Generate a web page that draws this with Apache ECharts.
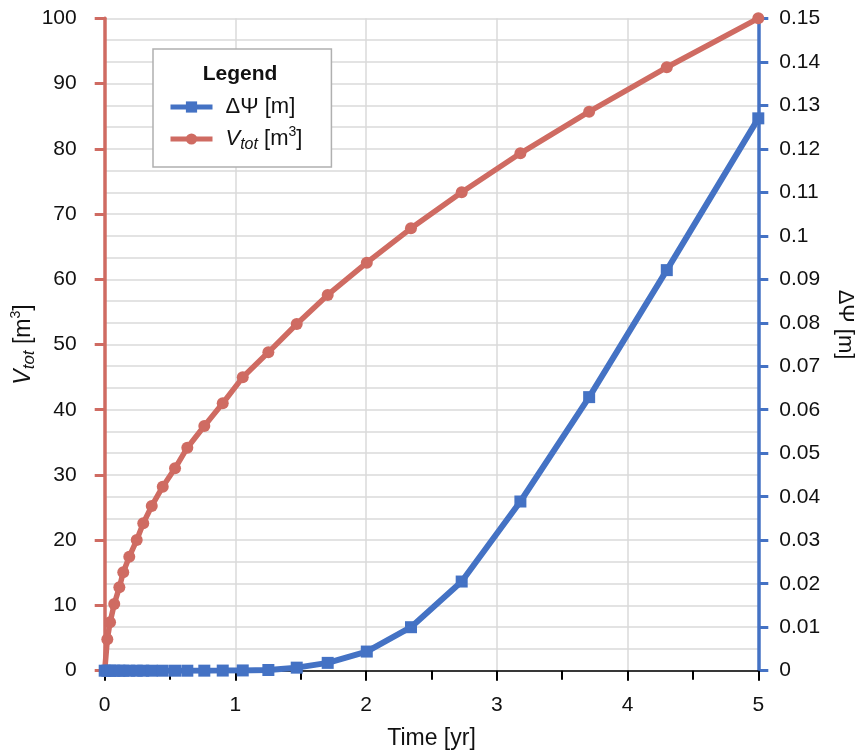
<!DOCTYPE html>
<html>
<head>
<meta charset="utf-8">
<script src="https://cdn.jsdelivr.net/npm/echarts@6/dist/echarts.min.js"></script>
<style>html,body{margin:0;padding:0;background:#fff}#c{width:861px;height:753px}</style>
</head>
<body>
<div id="c"></div>
<script>
// Time [yr]
const time = [0, 0.020, 0.041, 0.073, 0.112, 0.142, 0.188, 0.245, 0.295, 0.360, 0.444, 0.538, 0.632, 0.762, 0.903, 1.056, 1.252, 1.469, 1.706, 2.005, 2.343, 2.731, 3.180, 3.706, 4.300, 5.000];
// V_tot [m3]
const vtot = [0, 4.81, 7.42, 10.22, 12.78, 15.08, 17.47, 20.03, 22.59, 25.25, 28.2, 31.02, 34.18, 37.5, 40.99, 44.97, 48.8, 53.14, 57.59, 62.54, 67.81, 73.33, 79.31, 85.68, 92.49, 100];
// ΔΨ [m]
const dpsi = [0, 0, 0, 0, 0, 0, 0, 0, 0, 0, 0, 0, 0, 0.00001, 0.00003, 0.00006, 0.00016, 0.0007, 0.0018, 0.0044, 0.0100, 0.0205, 0.0389, 0.0629, 0.0921, 0.1270];

const RED = '#cf6b62';
const BLUE = '#4472c4';
const FONT = 'Liberation Sans, Arial, sans-serif';

const chart = echarts.init(document.getElementById('c'), null, {renderer: 'canvas'});

function richFor(size) {
  return {
    i: {fontStyle: 'italic', fontSize: size, lineHeight: size + 6, fontFamily: FONT, color: '#111', verticalAlign: 'middle'},
    s: {fontStyle: 'italic', fontSize: Math.round(size * 0.72), lineHeight: Math.round(size * 0.72), fontFamily: FONT, color: '#111', verticalAlign: 'bottom'},
    n: {fontSize: size, lineHeight: size + 6, fontFamily: FONT, color: '#111', verticalAlign: 'middle'},
    p: {fontSize: Math.round(size * 0.62), lineHeight: Math.round(size * 0.62) + 2, fontFamily: FONT, color: '#111', verticalAlign: 'top'}
  };
}

chart.setOption({
  animation: false,
  backgroundColor: '#fff',
  grid: {left: 104.7, right: 102.7, top: 18.3, bottom: 82.3, containLabel: false, outerBoundsMode: 'none'},
  graphic: [{
    type: 'text', x: 240, y: 74, z: 100,
    style: {text: 'Legend', font: 'bold 21px ' + FONT, fill: '#111', align: 'center', verticalAlign: 'middle'}
  }],
  legend: {
    left: 153, top: 49,
    orient: 'vertical',
    itemWidth: 42, itemHeight: 14, itemGap: 7,
    padding: [47, 29, 14, 15],
    borderColor: '#b0b0b0', borderWidth: 1.5,
    backgroundColor: '#fff',
    data: ['dpsi', 'vtot'],
    lineStyle: {width: 5},
    textStyle: {fontSize: 22, fontFamily: FONT, color: '#111', padding: [0, 0, 0, 8], rich: richFor(22)},
    formatter: function (name) {
      if (name === 'dpsi') return '{n|ΔΨ [m]}';
      return '{i|V}{s|tot}{n| [m}{p|3}{n|]}';
    }
  },
  xAxis: {
    type: 'value', min: 0, max: 5, interval: 1,
    name: 'Time [yr]', nameLocation: 'middle', nameGap: 56, nameMoveOverlap: false,
    nameTextStyle: {fontSize: 23, fontFamily: FONT, color: '#111'},
    axisLine: {show: true, onZero: false, lineStyle: {color: '#000', width: 1.5}},
    axisTick: {show: true, inside: false, length: 10, lineStyle: {color: '#000', width: 2}},
    minorTick: {show: true, splitNumber: 2, length: 9, lineStyle: {color: '#000', width: 2}},
    axisLabel: {fontSize: 21, fontFamily: FONT, color: '#111', margin: 24},
    splitLine: {show: true, lineStyle: {color: '#dadada', width: 1.5}},
    z: 1
  },
  yAxis: [{
    type: 'value', min: 0, max: 100, interval: 10, position: 'left',
    name: '{i|V}{s|tot}{n| [m}{p|3}{n|]}', nameLocation: 'middle', nameGap: 67, nameRotate: 90, nameMoveOverlap: false,
    nameTextStyle: {fontSize: 23, fontFamily: FONT, color: '#111', rich: richFor(23)},
    axisLine: {show: true, lineStyle: {color: RED, width: 3.5}},
    axisTick: {show: true, inside: false, length: 10, lineStyle: {color: RED, width: 3}},
    axisLabel: {fontSize: 21, fontFamily: FONT, color: '#111', margin: 28},
    splitLine: {show: false},
    z: 2
  }, {
    type: 'value', min: 0, max: 0.15, interval: 0.01, position: 'right',
    name: 'ΔΨ [m]', nameLocation: 'middle', nameGap: 76, nameRotate: -90,
    nameTextStyle: {fontSize: 22, fontFamily: FONT, color: '#111', padding: [0, 40, 0, 0]},
    axisLine: {show: true, lineStyle: {color: BLUE, width: 3.5}},
    axisTick: {show: true, inside: false, length: 10, lineStyle: {color: BLUE, width: 3}},
    minorTick: {show: false, splitNumber: 2},
    axisLabel: {fontSize: 21, fontFamily: FONT, color: '#111', margin: 21},
    splitLine: {show: true, lineStyle: {color: '#dadada', width: 1.5}},
    minorSplitLine: {show: true, lineStyle: {color: '#dadada', width: 1.5}},
    z: 1
  }],
  series: [{
    name: 'vtot', type: 'line', yAxisIndex: 0,
    data: time.map((t, i) => [t, vtot[i]]),
    symbol: 'circle', symbolSize: 12,
    lineStyle: {color: RED, width: 5.5},
    itemStyle: {color: RED},
    z: 3
  }, {
    name: 'dpsi', type: 'line', yAxisIndex: 1,
    data: time.map((t, i) => [t, dpsi[i]]),
    symbol: 'rect', symbolSize: 12,
    lineStyle: {color: BLUE, width: 6},
    itemStyle: {color: BLUE},
    z: 4
  }]
});
</script>
</body>
</html>
